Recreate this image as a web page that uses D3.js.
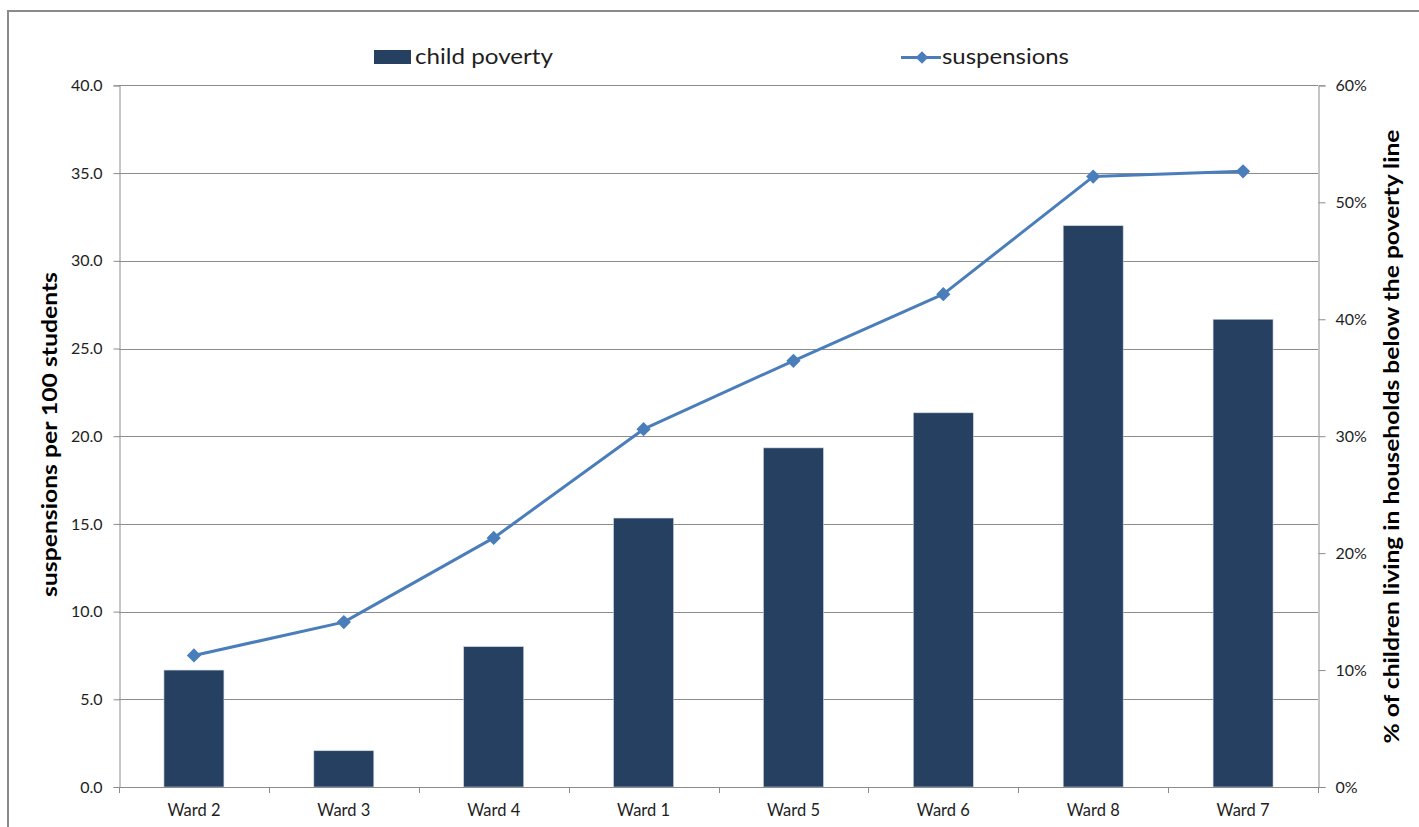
<!DOCTYPE html>
<html>
<head>
<meta charset="utf-8">
<script src="https://cdn.jsdelivr.net/npm/d3@7"></script>
<style>
  html, body { margin: 0; padding: 0; background: #fff; }
  svg { display: block; font-family: Lato, "Open Sans", sans-serif; }
</style>
</head>
<body>
<svg id="chart" width="1419" height="827"></svg>
<script>
// Wards, ordered by suspension rate
const wards = ["Ward 2", "Ward 3", "Ward 4", "Ward 1", "Ward 5", "Ward 6", "Ward 8", "Ward 7"];
// % of children living in households below the poverty line (right axis)
const childPoverty = [10.0, 3.1, 12.0, 23.0, 29.0, 32.0, 48.0, 40.0];
// Suspensions per 100 students (left axis)
const suspensions = [7.5, 9.4, 14.2, 20.4, 24.3, 28.1, 34.8, 35.1];

const leftTicks = [0, 5, 10, 15, 20, 25, 30, 35, 40];
const rightTicks = [0, 10, 20, 30, 40, 50, 60];

const svg = d3.select("#chart");
const plot = { left: 119, right: 1318, top: 85.4, bottom: 787 };

const barColor = "#264061";
const lineColor = "#4a7ebb";
const gridColor = "#8c8c8c";
const textColor = "#1e1e1e";

// outer chart frame
svg.append("rect")
  .attr("x", 8).attr("y", 11)
  .attr("width", 1440).attr("height", 860)
  .attr("fill", "#fff")
  .attr("stroke", "#8a8a8a").attr("stroke-width", 2);

const x = d3.scaleBand()
  .domain(wards)
  .range([plot.left, plot.right])
  .paddingInner(0.6)
  .paddingOuter(0.3);

const yLeft = d3.scaleLinear().domain([0, 40]).range([plot.bottom, plot.top]);
const yRight = d3.scaleLinear().domain([0, 60]).range([plot.bottom, plot.top]);

// horizontal gridlines from the left axis
svg.append("g")
  .selectAll("line")
  .data(leftTicks.filter(d => d > 0))
  .join("line")
  .attr("x1", plot.left).attr("x2", plot.right)
  .attr("y1", d => Math.round(yLeft(d)) + 0.5)
  .attr("y2", d => Math.round(yLeft(d)) + 0.5)
  .attr("stroke", gridColor).attr("stroke-width", 1);

// left axis
const leftAxis = svg.append("g")
  .attr("transform", `translate(${plot.left + 0.5},0)`)
  .call(d3.axisLeft(yLeft).tickValues(leftTicks).tickFormat(d3.format(".1f")).tickSize(6).tickPadding(11));

// right axis
const rightAxis = svg.append("g")
  .attr("transform", `translate(${plot.right + 0.5},0)`)
  .call(d3.axisRight(yRight).tickValues(rightTicks).tickFormat(d => d + "%").tickSize(7).tickPadding(10));

[leftAxis, rightAxis].forEach(g => {
  g.select(".domain").attr("stroke", gridColor).attr("stroke-width", 1);
  g.selectAll(".tick line").attr("stroke", gridColor);
  g.selectAll(".tick text")
    .attr("fill", textColor)
    .style("font-size", "16px")
    .style("font-family", "Lato, sans-serif");
});

// bars: child poverty
svg.append("g")
  .selectAll("rect")
  .data(wards.map((w, i) => ({ ward: w, value: childPoverty[i] })))
  .join("rect")
  .attr("x", d => x(d.ward))
  .attr("width", x.bandwidth())
  .attr("y", d => yRight(d.value))
  .attr("height", d => yRight(0) - yRight(d.value))
  .attr("fill", barColor)
  .attr("stroke", "#c9d2dd").attr("stroke-width", 0.6);

// bottom axis with ticks between categories
const x0 = plot.left;
svg.append("line")
  .attr("x1", plot.left).attr("x2", plot.right)
  .attr("y1", plot.bottom + 0.5).attr("y2", plot.bottom + 0.5)
  .attr("stroke", gridColor);
svg.append("g")
  .selectAll("line")
  .data(d3.range(wards.length + 1))
  .join("line")
  .attr("x1", i => Math.round(x0 + i * (plot.right - plot.left) / wards.length) + 0.5)
  .attr("x2", i => Math.round(x0 + i * (plot.right - plot.left) / wards.length) + 0.5)
  .attr("y1", plot.bottom).attr("y2", plot.bottom + 6)
  .attr("stroke", gridColor);
svg.append("g")
  .selectAll("text")
  .data(wards)
  .join("text")
  .attr("x", d => x(d) + x.bandwidth() / 2)
  .attr("y", 816)
  .attr("text-anchor", "middle")
  .attr("fill", textColor)
  .style("font-size", "16.5px")
  .text(d => d);

// suspensions line
const pts = wards.map((w, i) => [x(w) + x.bandwidth() / 2, yLeft(suspensions[i])]);
svg.append("path")
  .attr("d", d3.line()(pts))
  .attr("fill", "none")
  .attr("stroke", lineColor)
  .attr("stroke-width", 3)
  .attr("stroke-linejoin", "round");

const diamond = d3.symbol().type(d3.symbolDiamond2).size(130);
svg.append("g")
  .selectAll("path")
  .data(pts)
  .join("path")
  .attr("transform", d => `translate(${d[0]},${d[1]})`)
  .attr("d", diamond)
  .attr("fill", lineColor);

// axis titles
svg.append("text")
  .attr("transform", `translate(57,434.5) rotate(-90)`)
  .attr("text-anchor", "middle")
  .attr("fill", "#000")
  .attr("textLength", 325).attr("lengthAdjust", "spacingAndGlyphs")
  .style("font-size", "21px").style("font-weight", "bold")
  .text("suspensions per 100 students");

svg.append("text")
  .attr("transform", `translate(1399,436.5) rotate(-90)`)
  .attr("text-anchor", "middle")
  .attr("fill", "#000")
  .attr("textLength", 614).attr("lengthAdjust", "spacingAndGlyphs")
  .style("font-size", "21px").style("font-weight", "bold")
  .text("% of children living in households below the poverty line");

// legend
const legend = svg.append("g");
legend.append("rect")
  .attr("x", 374).attr("y", 50).attr("width", 37).attr("height", 14)
  .attr("fill", barColor);
legend.append("text")
  .attr("x", 415).attr("y", 64)
  .attr("fill", textColor)
  .attr("textLength", 138).attr("lengthAdjust", "spacingAndGlyphs")
  .style("font-size", "21px")
  .text("child poverty");

legend.append("line")
  .attr("x1", 901).attr("x2", 941).attr("y1", 57.5).attr("y2", 57.5)
  .attr("stroke", lineColor).attr("stroke-width", 3);
legend.append("path")
  .attr("transform", "translate(922,57.5)")
  .attr("d", d3.symbol().type(d3.symbolDiamond2).size(100))
  .attr("fill", lineColor);
legend.append("text")
  .attr("x", 942).attr("y", 64)
  .attr("fill", textColor)
  .attr("textLength", 127).attr("lengthAdjust", "spacingAndGlyphs")
  .style("font-size", "21px")
  .text("suspensions");
</script>
</body>
</html>
